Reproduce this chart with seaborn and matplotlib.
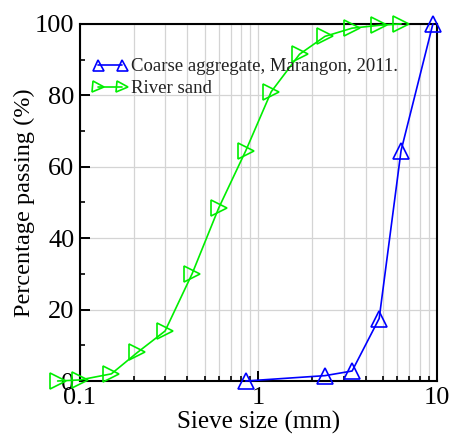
import matplotlib
matplotlib.use("Agg")
import matplotlib.pyplot as plt
import seaborn as sns
import pandas as pd
from matplotlib.ticker import LogLocator, FixedLocator, NullFormatter, FixedFormatter

# Grading data: sieve opening (mm) and cumulative percentage passing
sand_size = [0.075, 0.1, 0.15, 0.21, 0.3, 0.425, 0.6, 0.85, 1.18, 1.7, 2.36, 3.35, 4.75, 6.3]
sand_pass = [0, 0.3, 2, 8, 14, 30, 48.5, 64.5, 81, 91.5, 96.5, 98.8, 99.6, 100]
coarse_size = [0.85, 2.36, 3.35, 4.75, 6.3, 9.5]
coarse_pass = [0, 1.5, 2.8, 17.5, 64.5, 100]

series_names = ["Coarse aggregate, Marangon, 2011.", "River sand"]
x_ticks = [0.1, 1, 10]
x_tick_labels = ["0.1", "1", "10"]
y_ticks = [0, 20, 40, 60, 80, 100]

sns.set_theme(style="white")
plt.rcParams["font.family"] = ["Liberation Serif", "DejaVu Serif"]

coarse = pd.DataFrame({"size": coarse_size, "passing": coarse_pass})
sand = pd.DataFrame({"size": sand_size, "passing": sand_pass})

fig = plt.figure(figsize=(4.49, 4.42), dpi=100)
ax = fig.add_axes([0.178, 0.138, 0.795, 0.808])

common = dict(estimator=None, sort=False, linewidth=1.2, markersize=11,
              markerfacecolor="none", markeredgewidth=1.2, clip_on=False, zorder=3)
sns.lineplot(data=coarse, x="size", y="passing", ax=ax, color="#0000ff",
             marker="^", markeredgecolor="#0000ff", label=series_names[0], **common)
sns.lineplot(data=sand, x="size", y="passing", ax=ax, color="#00ee00",
             marker=">", markeredgecolor="#00ee00", label=series_names[1], **common)

ax.set_xscale("log")
ax.set_xlim(0.1, 10)
ax.set_ylim(0, 100)

ax.xaxis.set_major_locator(FixedLocator(x_ticks))
ax.xaxis.set_major_formatter(FixedFormatter(x_tick_labels))
ax.xaxis.set_minor_locator(LogLocator(base=10, subs=range(2, 10)))
ax.xaxis.set_minor_formatter(NullFormatter())
ax.set_yticks(y_ticks)
ax.yaxis.set_minor_locator(FixedLocator([10, 30, 50, 70, 90]))

ax.grid(True, which="both", axis="x", color="#d4d4d4", linewidth=0.9)
ax.grid(True, which="major", axis="y", color="#d4d4d4", linewidth=0.9)
ax.set_axisbelow(True)

ax.tick_params(axis="both", which="major", direction="in", length=7, width=1.4,
               labelsize=19, color="black", labelcolor="black", pad=4,
               top=False, right=False, bottom=True, left=True)
ax.tick_params(axis="both", which="minor", direction="in", length=3.5, width=1.2,
               color="black", top=False, right=False, bottom=True, left=True)

for sp in ax.spines.values():
    sp.set_color("black")
    sp.set_linewidth(1.5)

ax.set_xlabel("Sieve size (mm)", fontsize=18, color="black", labelpad=2)
ax.set_ylabel("Percentage passing (%)", fontsize=17.5, color="black", labelpad=0)

leg = ax.legend(loc="upper left", bbox_to_anchor=(0.015, 0.925), frameon=False,
                fontsize=13.5, numpoints=2, markerscale=0.72, handlelength=1.85,
                handletextpad=0.2, labelspacing=0.25, borderaxespad=0.2, borderpad=0.2)
for t in leg.get_texts():
    t.set_color("#222222")

fig.savefig("out.png", dpi=100)
